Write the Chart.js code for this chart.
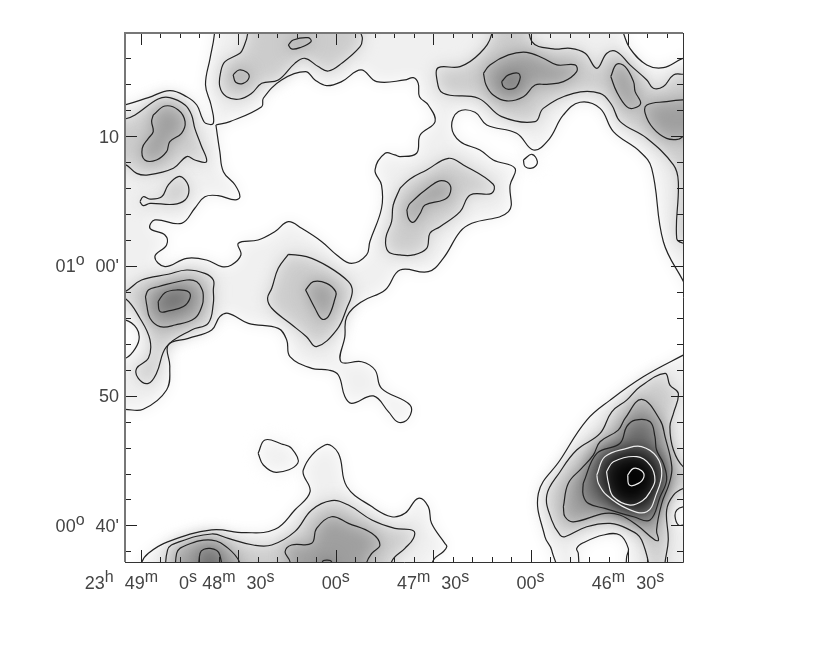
<!DOCTYPE html>
<html lang="en">
<head>
  <meta charset="UTF-8" />
  <title>Contour map</title>
  <script src="https://cdn.jsdelivr.net/npm/chart.js"></script>
  <style>
    body { margin: 0; background: #fff; }
    canvas { display: block; }
  </style>
</head>
<body>
  <canvas id="map" width="830" height="664"></canvas>

  <script>
    // axis limits: RA in seconds after 23h 46m, Dec in arcmin after 0 deg
    const raRange = [13.06, 184.9];
    const decRange = [37.18, 77.96];

    const raMajor = [180, 150, 120, 90, 60, 30];
    const raMinor = [18, 24, 36, 42, 48, 54, 66, 72, 78, 84, 96, 102, 108, 114, 126, 132, 138, 144, 156, 162, 168, 174];
    const decMajor = [70, 60, 50, 40];
    const decMinor = [38, 42, 44, 46, 48, 52, 54, 56, 58, 62, 64, 66, 68, 72, 74, 76];

    const raLabels = [
      [['23', 'h'], ['49', 'm'], ['  0', 's']],
      [['48', 'm'], ['30', 's']],
      [['00', 's']],
      [['47', 'm'], ['30', 's']],
      [['00', 's']],
      [['46', 'm'], ['30', 's']]
    ];
    const decLabels = [
      [['10', '']],
      [['01', 'o'], ["00'", '']],
      [['50', '']],
      [['00', 'o'], ["40'", '']]
    ];

    // lowest contour, bounding the empty parts of the field
    const emptyCorner = [[192,72],[184.9,72.41],[177.7,72.98],[171.1,73.52],[165.9,73.05],[162.8,72.41],[161.1,71.38],[160.1,71.0],[157.7,71.0],[158.4,72.41],[160.1,73.95],[158.7,76.01],[157.4,77.81],[157,80],[192,80]];
    const emptyNorth = [[156.9,70.87],[152.6,71.13],[142.8,72.28],[142.3,72.93],[136.7,74.34],[129.3,74.98],[126.4,74.34],[122.8,73.9],[118.2,74.21],[112.2,75.11],[107.4,74.21],[98.7,74.34],[96.1,74.52],[94.6,74.08],[94.2,73.05],[91.5,72.41],[89.4,71.13],[94.0,70.1],[95.1,68.69],[100.2,68.43],[101.8,68.56],[104.8,68.69],[107.9,67.4],[105.9,66.24],[105.9,64.45],[109.5,61.87],[110.5,60.85],[115.1,60.2],[119.7,60.85],[124.3,61.87],[130.5,62.9],[134.6,63.42],[138.7,62.65],[143.9,62.0],[150.0,61.75],[149.2,60.85],[152.1,60.08],[155.1,59.95],[159.8,60.46],[165.9,60.59],[172.6,59.95],[175.7,60.72],[172.1,61.62],[172.6,62.39],[177.2,62.9],[175.7,63.55],[167.5,63.29],[163.4,64.45],[160.3,65.34],[156.2,65.42],[151.0,65.09],[149.5,65.34],[151.0,66.24],[154.6,67.27],[155.7,68.81]];
    const emptySouth = [[6,55.4],[12.9,58.79],[19.1,61.87],[22.7,67.53],[26.3,68.81],[34.5,70.36],[38.6,72.15],[44.8,72.62],[49.9,71.64],[54.5,69.71],[59.1,68.94],[64.3,70.23],[73.5,70.87],[77.1,71.85],[82.2,71.9],[84.3,70.74],[81.7,69.59],[75.6,68.94],[71.5,68.17],[64.8,67.53],[66.3,66.24],[66.8,64.19],[78.1,63.29],[81.7,62.65],[86.9,60.59],[91.5,59.56],[100.2,59.69],[104.8,58.15],[112.0,57.25],[116.6,56.09],[117.2,54.55],[118.4,52.62],[112.0,52.62],[107.9,51.98],[105.9,50.57],[97.1,49.28],[97.6,48.26],[100.7,47.95],[103.8,48.77],[108.4,49.98],[115.1,49.41],[117.2,49.93],[119.2,51.6],[122.3,51.98],[127.4,52.11],[134.1,53.01],[135.1,54.3],[137.7,55.19],[146.9,55.58],[153.1,56.35],[155.7,56.09],[158.2,55.07],[165.4,54.42],[171.6,53.91],[171.1,52.24],[172.1,50.44],[179.3,48.95],[184.9,48.95],[192,48.95],[192,34],[181.5,34],[179.8,37.08],[177.7,37.85],[171.6,38.75],[158.2,39.65],[148.0,39.44],[138.7,39.7],[132.6,41.19],[127.9,42.6],[130.0,44.27],[123.3,46.2],[119.2,45.56],[116.6,43.0],[108.9,41.45],[102.8,40.67],[98.7,40.93],[94.6,42.09],[91.5,41.45],[90.5,40.16],[86.4,38.62],[85.8,38.36],[86.9,37.97],[89.9,37.33],[93,34.5],[51.2,34.5],[53.5,38.1],[55.6,39.13],[57.6,42.47],[50.9,45.04],[42.7,48.12],[35.5,49.66],[25.3,51.46],[12.95,53.13],[6,54]];
    const emptyTopRight = [[31.6,78.07],[29.4,76.78],[24.2,75.5],[19.1,75.29],[12.9,76.01],[6,76.3],[6,80],[32,80]];
    const emptyHollow = [[44.9,35],[45.3,37.84],[45.8,38.23],[43.8,38.66],[37.6,39.26],[32.5,39.26],[29.9,38.23],[30.4,37.6],[31.8,35]];
    const emptyEdge = [[6,41.52],[12.95,41.44],[15.0,41.18],[15.5,40.67],[14.5,40.03],[12.95,40.03],[6,40.03]];
    const islandSmall = [[62.2,68.17],[59.6,68.61],[57.9,68.04],[59.1,67.58],[61.7,67.66]];
    const islandMid = [[143.9,45.56],[141.8,46.59],[136.7,46.28],[133.6,45.94],[131.7,44.79],[138.2,44.09],[142.3,44.66]];

    // second contour
    const bandNorthEast = [[72.0,80],[72.0,77.86],[75.6,76.4],[81.7,75.37],[88.4,75.29],[88.9,74.47],[86.9,73.31],[76.1,72.93],[68.9,71.51],[58.6,71.13],[56.1,72.15],[46.8,73.31],[38.6,73.31],[35.0,72.41],[32.4,71.13],[24.2,69.84],[16.0,67.79],[14.5,66.5],[15.0,62.13],[12.9,61.75],[6,61.4],[6,74.78],[12.9,74.78],[16.0,74.73],[19.1,73.83],[22.2,73.7],[24.2,74.34],[29.4,75.5],[33.5,76.52],[36.5,76.4],[39.6,75.24],[43.2,76.4],[47.8,76.78],[53.0,76.73],[59.6,77.3],[62,80]];
    const bandCentre = [[100.2,65.99],[97.1,66.71],[92.0,67.4],[85.3,68.3],[80.7,67.79],[71.5,66.3],[72.0,65.6],[78.6,65.47],[81.7,64.19],[87.9,63.03],[91.0,62.52],[92.0,61.36],[96.1,60.85],[100.2,60.85],[103.8,61.1],[104.6,62.13],[102.8,63.42],[102.3,64.7]];
    const bandTop = [[147.1,80],[147.1,77.94],[148.5,76.78],[149.5,76.4],[154.1,75.75],[155.4,74.98],[155.7,73.83],[153.6,73.05],[149.5,72.87],[145.9,73.31],[142.8,74.08],[137.7,74.34],[132.6,75.62],[129.5,76.01],[125.4,75.37],[122.3,75.03],[118.2,75.62],[112.5,76.91],[111.8,77.55],[112.2,77.94],[112.2,80]];
    const bandUpperLeft = [[192,71.1],[184.9,71.33],[181.8,71.64],[174.7,72.87],[171.1,72.98],[166.4,72.41],[164.4,71.64],[163.4,70.61],[161.5,69.33],[159.8,68.04],[163.4,68.17],[165.9,68.43],[170.0,67.53],[177.7,67.02],[181.3,67.14],[184.9,67.84],[192,68.2]];
    const bandSmall = [[180.3,64.96],[179.3,65.34],[177.2,65.16],[173.6,65.34],[171.6,66.24],[168.5,66.89],[166.4,66.63],[165.2,65.86],[166.4,65.09],[170.0,64.75],[177.2,64.83],[179.3,64.65]];
    const bandWest = [[192,57.4],[184.9,58.02],[179.8,58.92],[171.6,59.36],[165.9,59.69],[160.3,59.43],[157.7,58.92],[157.7,58.15],[157.7,57.12],[159.3,55.58],[164.4,55.07],[172.1,53.78],[175.2,51.73],[177.7,50.95],[180.8,51.34],[181.3,52.11],[177.7,52.88],[177.2,54.3],[180.3,55.97],[184.9,57.51],[192,58.2]];
    const bandMiddle = [[134.6,60.9],[129.0,60.72],[122.3,59.95],[116.1,58.79],[114.9,58.02],[116.6,56.74],[119.7,55.07],[125.9,53.78],[129.0,54.55],[134.1,55.58],[139.7,56.74],[141.0,57.51],[139.7,58.28],[137.7,59.82]];
    const bandBottom = [[172.3,35],[171.8,38.1],[168.0,38.75],[158.2,39.34],[153.1,39.0],[145.4,38.49],[139.7,38.49],[132.6,39.52],[127.4,41.19],[121.3,41.91],[116.1,41.57],[108.9,40.42],[101.8,39.77],[96.1,39.59],[96.1,39.0],[98.7,38.23],[102.8,37.2],[104,35]];
    const bandSouthEast = [[22,35],[25.8,38.87],[30.4,39.77],[35.5,40.16],[42.7,39.9],[49.4,39.13],[50.9,39.26],[53.5,40.41],[55.0,42.34],[50.9,44.14],[45.8,45.81],[38.6,47.09],[35.0,48.76],[30.4,49.66],[26.3,50.69],[18.6,51.72],[17.1,50.82],[14.5,50.18],[16.0,48.64],[17.1,47.61],[16.0,45.81],[12.95,44.52],[6,43.6],[6,43.24],[12.95,42.85],[16.0,42.34],[18.1,41.18],[17.6,38.87],[18.6,37.12],[19.2,35]];
    const holeWest = [[192,55.84],[184.9,55.84],[181.3,55.19],[180.6,54.3],[182.4,53.4],[184.9,52.88],[192,52.75]];

    // third contour
    const ridgeNorth = [[74.5,74.85],[72.5,75.5],[66.8,76.27],[61.2,76.47],[56.1,76.01],[51.9,75.5],[46.3,75.5],[45.8,74.98],[49.9,74.21],[55.0,74.0],[58.6,73.95],[62.2,73.05],[67.3,72.72],[71.5,73.18],[73.7,73.95]];
    const ridgeSlim = [[35.3,74.6],[33.5,75.55],[30.9,75.37],[28.3,74.21],[27.8,73.44],[26.1,72.54],[28.3,72.16],[30.4,72.28],[33.5,73.44]];
    const ridgeEdge = [[6,72.8],[12.9,72.8],[18.1,72.67],[24.2,72.41],[24.7,71.77],[22.2,70.61],[18.1,69.84],[14.5,69.77],[12.9,69.97],[6,69.97]];
    const ridgeCentre = [[98.1,64.32],[97.1,64.83],[90.4,66.24],[87.4,66.58],[84.8,66.24],[85.0,65.47],[86.9,65.09],[92.5,64.7],[94.0,64.06],[96.1,63.37],[97.6,63.67]];
    const ridgeTopA = [[134.6,77.04],[133.1,77.42],[128.5,77.6],[127.6,77.3],[131.0,76.83],[133.6,76.73]];
    const ridgeTopB = [[151.6,74.73],[149.8,75.11],[147.4,74.93],[146.7,74.52],[148.5,74.08],[150.8,74.16]];
    const ridgeUpperLeft = [[176.2,71.64],[172.6,72.33],[168.5,72.03],[166.4,71.13],[167.5,70.23],[171.1,69.58],[172.1,68.81],[175.2,68.17],[178.8,68.17],[179.6,69.07],[177.7,69.84],[176.2,70.36],[176.7,71.13]];
    const ridgeWest = [[178.6,57.63],[177.7,58.15],[174.7,58.4],[165.9,58.92],[162.8,58.79],[161.1,58.15],[160.8,57.76],[161.1,56.99],[163.4,55.97],[169.5,55.45],[174.1,55.32],[177.2,55.97],[178.2,56.99]];
    const ridgeMiddle = [[129.3,58.15],[126.9,58.79],[122.8,58.66],[120.0,58.02],[120.2,57.51],[122.3,56.09],[124.3,55.91],[126.4,56.74],[129.0,58.02]];
    const ridgeBottomLeft = [[169.0,35],[169.0,37.85],[165.9,38.49],[158.2,38.87],[153.1,38.23],[149.5,37.08],[148.5,35]];
    const ridgeBottomMid = [[134,35],[134.1,37.2],[135.6,37.97],[133.6,38.49],[127.4,38.62],[125.9,39.77],[121.3,40.67],[116.1,40.16],[108.9,39.39],[106.4,38.49],[108.9,37.85],[110.5,37.08],[110.5,35]];
    const ridgeSouthEast = [[49.9,41.44],[48.4,43.24],[44.3,44.4],[40.7,45.42],[38.6,46.45],[33.0,47.35],[30.9,48.25],[25.8,49.72],[20.1,48.12],[18.6,46.84],[16.5,44.52],[17.3,43.24],[19.6,41.7],[21.2,39.64],[20.6,38.87],[21.7,38.87],[27.3,40.03],[32.5,40.8],[37.1,40.93],[46.8,40.28],[49.4,40.67]];

    // upper contours
    const peakNorth = [[68.9,74.21],[66.8,74.73],[63.4,74.78],[64.3,73.83],[66.8,73.62],[68.4,73.83]];
    const peakWest = [[174.7,57.25],[172.6,57.94],[169.0,58.15],[165.4,58.02],[164.9,57.51],[166.9,56.87],[171.1,56.56],[174.1,56.48]];
    const peakBottomLeft = [[161.8,35],[161.8,37.85],[158.7,38.23],[155.7,37.72],[155.4,35]];
    const peakBottomMid = [[124.3,35],[124.1,37.2],[122.8,37.33],[121.3,37.2],[121.1,35]];
    const coreOuter = [[43.8,43.24],[39.6,45.55],[32.5,46.32],[30.4,47.61],[27.8,48.12],[23.2,47.99],[21.7,46.84],[21.2,45.81],[19.1,44.78],[18.1,43.5],[20.1,42.21],[23.2,40.41],[28.3,40.67],[37.1,41.31],[42.2,41.7],[43.8,42.34]];
    const coreRingA = [[39.6,43.88],[37.1,45.3],[30.4,45.94],[25.8,46.07],[21.2,45.3],[19.6,44.01],[21.2,42.47],[24.2,41.05],[30.4,41.31],[36.6,42.34],[39.1,43.24]];
    const coreRingB = [[36.6,44.14],[34.5,44.91],[27.3,45.3],[23.2,44.65],[21.7,43.5],[23.2,42.6],[25.3,41.95],[29.4,41.57],[34.5,42.21],[36.0,43.24]];
    const coreRingC = [[30.1,43.88],[28.3,44.4],[25.8,44.22],[25.1,43.75],[26.8,43.24],[29.6,43.11]];

    const levelShades = ['#ffffff', '#f0f0f0', '#cccccc', '#9f9f9f', '#6e6e6e', '#383838', '#080808', '#000000'];

    // painted in this order, each entry is [contour, shade index, line colour]
    const layers = [
      [emptyCorner, 0, '#222'], [emptyNorth, 0, '#222'], [emptySouth, 0, '#222'], [emptyTopRight, 0, '#222'],
      [emptyHollow, 0, '#222'], [emptyEdge, 0, '#222'], [islandSmall, 1, '#222'], [islandMid, 1, '#222'],
      [bandNorthEast, 2, '#222'], [bandCentre, 2, '#222'], [bandTop, 2, '#222'], [bandUpperLeft, 2, '#222'],
      [bandSmall, 2, '#222'], [bandWest, 2, '#222'], [bandMiddle, 2, '#222'], [bandBottom, 2, '#222'],
      [bandSouthEast, 2, '#222'], [holeWest, 0, '#222'],
      [ridgeNorth, 3, '#222'], [ridgeSlim, 3, '#222'], [ridgeEdge, 3, '#222'], [ridgeCentre, 3, '#222'],
      [ridgeTopA, 3, '#222'], [ridgeTopB, 3, '#222'], [ridgeUpperLeft, 3, '#222'], [ridgeWest, 3, '#222'],
      [ridgeMiddle, 3, '#222'], [ridgeBottomLeft, 3, '#222'], [ridgeBottomMid, 3, '#222'], [ridgeSouthEast, 3, '#222'],
      [peakNorth, 4, '#222'], [peakWest, 4, '#222'], [peakBottomLeft, 4, '#222'], [peakBottomMid, 4, '#222'],
      [coreOuter, 4, '#222'], [coreRingA, 5, '#eee'], [coreRingB, 6, '#eee'], [coreRingC, 7, '#eee']
    ];

    const closed = pts => pts.concat([pts[0]]);

    const fillSets = layers.map(l => ({
      data: closed(l[0]), fill: 'shape', backgroundColor: levelShades[l[1]],
      borderWidth: 0, borderColor: 'transparent', pointRadius: 0, showLine: true, tension: 0.4
    }));
    const lineSets = layers.map(l => ({
      data: closed(l[0]), fill: false, borderColor: l[2], borderWidth: 1.2,
      pointRadius: 0, showLine: true, tension: 0.4
    }));
    const datasets = fillSets.concat(lineSets);
    // bigger order is drawn first
    datasets.forEach((d, i) => { d.order = datasets.length - i; });

    const mapFrame = {
      id: 'mapFrame',
      beforeDatasetsDraw(chart) {
        const a = chart.chartArea;
        chart.ctx.fillStyle = levelShades[1];
        chart.ctx.fillRect(a.left, a.top, a.width, a.height);
        chart.ctx.filter = 'blur(8px)';
      },
      afterDatasetDraw(chart, args) {
        if (args.index === fillSets.length - 1) chart.ctx.filter = 'none';
      },
      afterDraw(chart) {
        const ctx = chart.ctx, a = chart.chartArea, x = chart.scales.x, y = chart.scales.y;
        ctx.save();
        ctx.filter = 'none';
        ctx.strokeStyle = '#222';
        ctx.lineWidth = 1;
        const tickX = (v, len) => {
          const p = Math.round(x.getPixelForValue(v)) + 0.5;
          ctx.beginPath();
          ctx.moveTo(p, a.bottom); ctx.lineTo(p, a.bottom - len);
          ctx.moveTo(p, a.top); ctx.lineTo(p, a.top + len);
          ctx.stroke();
        };
        const tickY = (v, len) => {
          const p = Math.round(y.getPixelForValue(v)) + 0.5;
          ctx.beginPath();
          ctx.moveTo(a.left, p); ctx.lineTo(a.left + len, p);
          ctx.moveTo(a.right, p); ctx.lineTo(a.right - len, p);
          ctx.stroke();
        };
        raMajor.forEach(v => tickX(v, 12));
        raMinor.forEach(v => tickX(v, 5));
        decMajor.forEach(v => tickY(v, 12));
        decMinor.forEach(v => tickY(v, 6));

        ctx.strokeStyle = '#777';
        ctx.lineWidth = 2;
        ctx.beginPath();
        ctx.moveTo(a.left, a.bottom); ctx.lineTo(a.left, a.top); ctx.lineTo(a.right, a.top);
        ctx.stroke();
        ctx.strokeStyle = '#333';
        ctx.lineWidth = 1;
        ctx.beginPath();
        ctx.moveTo(a.right + 0.5, a.top); ctx.lineTo(a.right + 0.5, a.bottom + 0.5); ctx.lineTo(a.left, a.bottom + 0.5);
        ctx.stroke();

        const mainFont = "18px 'Liberation Sans'", supFont = "16px 'Liberation Sans'", gap = 11;
        ctx.fillStyle = '#444';
        ctx.textAlign = 'left';
        ctx.textBaseline = 'alphabetic';
        const labelWidth = parts => parts.reduce((w, p, i) => {
          ctx.font = mainFont; w += ctx.measureText(p[0]).width;
          ctx.font = supFont; w += ctx.measureText(p[1]).width;
          return w + (i ? gap : 0);
        }, 0);
        const drawLabel = (parts, left, base) => {
          let px = left;
          parts.forEach((p, i) => {
            if (i) px += gap;
            ctx.font = mainFont;
            ctx.fillText(p[0], px, base);
            px += ctx.measureText(p[0]).width;
            ctx.font = supFont;
            ctx.fillText(p[1], px, base - 7);
            px += ctx.measureText(p[1]).width;
          });
        };
        raLabels.forEach((parts, i) => {
          drawLabel(parts, x.getPixelForValue(raMajor[i]) - labelWidth(parts) / 2, 589);
        });
        decLabels.forEach((parts, i) => {
          drawLabel(parts, 119 - labelWidth(parts), y.getPixelForValue(decMajor[i]) + 6.5);
        });
        ctx.restore();
      }
    };

    new Chart(document.getElementById('map').getContext('2d'), {
      type: 'scatter',
      data: { datasets: datasets },
      options: {
        responsive: false,
        animation: false,
        events: [],
        layout: { padding: { left: 125, right: 147, top: 33, bottom: 102 } },
        elements: { line: { capBezierPoints: false } },
        scales: {
          x: { type: 'linear', reverse: true, min: raRange[0], max: raRange[1], display: false },
          y: { type: 'linear', min: decRange[0], max: decRange[1], display: false }
        },
        plugins: { legend: { display: false }, tooltip: { enabled: false }, title: { display: false } }
      },
      plugins: [mapFrame]
    });
  </script>
</body>
</html>
